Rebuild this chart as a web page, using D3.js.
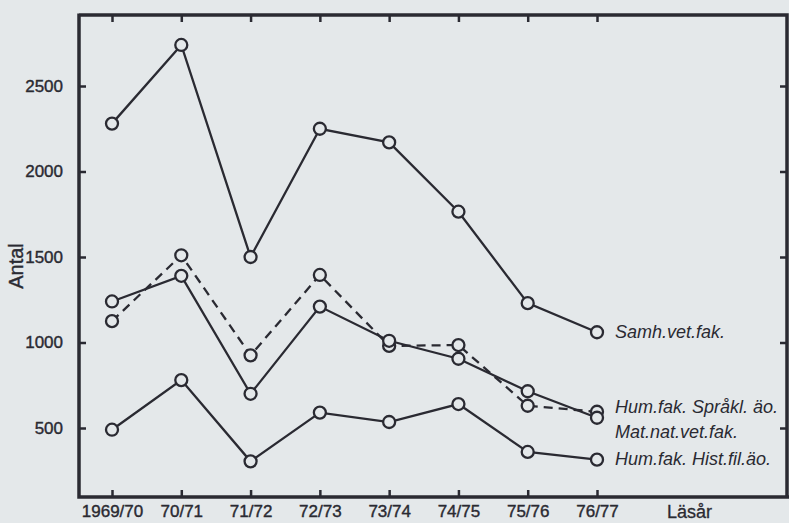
<!DOCTYPE html>
<html>
<head>
<meta charset="utf-8">
<script src="https://cdn.jsdelivr.net/npm/d3@7"></script>
<style>
  body { margin: 0; background: #e4e8ea; }
  svg { display: block; }
</style>
</head>
<body>
<div id="chart"></div>
<script>
// Läsår on the x axis
const years = ["1969/70", "70/71", "71/72", "72/73", "73/74", "74/75", "75/76", "76/77"];
const yTicks = [500, 1000, 1500, 2000, 2500];

// Antal per faculty
const samhVet   = [2280, 2740, 1500, 2250, 2170, 1765, 1230, 1060];
const sprakl    = [1125, 1510,  925, 1395,  980,  985,  630,  595];
const matNatVet = [1240, 1390,  700, 1210, 1010,  905,  715,  560];
const histFil   = [ 490,  780,  305,  590,  535,  640,  360,  315];

const seriesNames = ["Samh.vet.fak.", "Hum.fak. Språkl. äo.", "Mat.nat.vet.fak.", "Hum.fak. Hist.fil.äo."];
const seriesValues = [samhVet, sprakl, matNatVet, histFil];
const seriesDashed = [false, true, false, false];
const labelShift = [6, 1, 20, 5];

const W = 789, H = 523;
const ink = "#2a2a32", paper = "#e4e8ea";
const frame = {left: 79, top: 15, right: 787, bottom: 497};
const font = "'Liberation Sans', Arial, sans-serif";

const svg = d3.select("#chart").append("svg")
  .attr("width", W)
  .attr("height", H)
  .style("font-family", font);

svg.append("rect").attr("width", W).attr("height", H).attr("fill", paper);

const x = d3.scalePoint().domain(years).range([112, 597]);
const y = d3.scaleLinear().domain([0, 2500]).range([513.5, 86]);

// axes with inward ticks
const axLeft = svg.append("g").attr("transform", `translate(${frame.left},0)`)
  .call(d3.axisLeft(y).tickValues(yTicks).tickFormat(d3.format("d"))
    .tickSizeInner(-7).tickSizeOuter(0).tickPadding(16));
const axRight = svg.append("g").attr("transform", `translate(${frame.right},0)`)
  .call(d3.axisRight(y).tickValues(yTicks).tickSizeInner(-7).tickSizeOuter(0).tickFormat(""));
const axTop = svg.append("g").attr("transform", `translate(0,${frame.top})`)
  .call(d3.axisTop(x).tickSizeInner(-7).tickSizeOuter(0).tickFormat(""));
const axBottom = svg.append("g").attr("transform", `translate(0,${frame.bottom})`)
  .call(d3.axisBottom(x).tickSizeInner(-7).tickSizeOuter(0).tickPadding(8));

[axLeft, axRight, axTop, axBottom].forEach(g => {
  g.attr("font-family", font).attr("font-size", 17);
  g.select(".domain").remove();
  g.selectAll(".tick line").attr("stroke", ink).attr("stroke-width", 2.5);
  g.selectAll(".tick text").attr("fill", ink)
    .attr("stroke", ink).attr("stroke-width", 0.4);
});

// frame
svg.append("path")
  .attr("d", `M${frame.left},${frame.top}H${frame.right}V${frame.bottom}` +
             `M${frame.left},${frame.top - 1.5}V${frame.bottom}H${W}`)
  .attr("fill", "none")
  .attr("stroke", ink)
  .attr("stroke-width", 3.5);

const line = d3.line().x((d, i) => x(years[i])).y(d => y(d));

seriesValues.forEach((vals, s) => {
  svg.append("path")
    .datum(vals)
    .attr("d", line)
    .attr("fill", "none")
    .attr("stroke", ink)
    .attr("stroke-width", 2.3)
    .attr("stroke-dasharray", seriesDashed[s] ? "9,6" : null);
});

seriesValues.forEach(vals => {
  svg.append("g").selectAll("circle")
    .data(vals)
    .join("circle")
    .attr("cx", (d, i) => x(years[i]))
    .attr("cy", d => y(d))
    .attr("r", 6)
    .attr("fill", paper)
    .attr("stroke", ink)
    .attr("stroke-width", 2.3);
});

// series names at the line ends
svg.append("g").selectAll("text")
  .data(seriesNames)
  .join("text")
  .attr("x", x(years[years.length - 1]) + 18)
  .attr("y", (d, i) => y(seriesValues[i][years.length - 1]) + labelShift[i])
  .attr("fill", ink)
  .style("font-size", "18px")
  .style("font-style", "italic")
  .text(d => d);

svg.append("text")
  .attr("x", 667)
  .attr("y", 518)
  .attr("fill", ink)
  .attr("stroke", ink)
  .attr("stroke-width", 0.3)
  .style("font-size", "18px")
  .text("Läsår");

svg.append("text")
  .attr("transform", "translate(16,266) rotate(-90)")
  .attr("text-anchor", "middle")
  .attr("dy", "0.35em")
  .attr("fill", ink)
  .attr("stroke", ink)
  .attr("stroke-width", 0.4)
  .style("font-size", "20px")
  .text("Antal");
</script>
</body>
</html>
